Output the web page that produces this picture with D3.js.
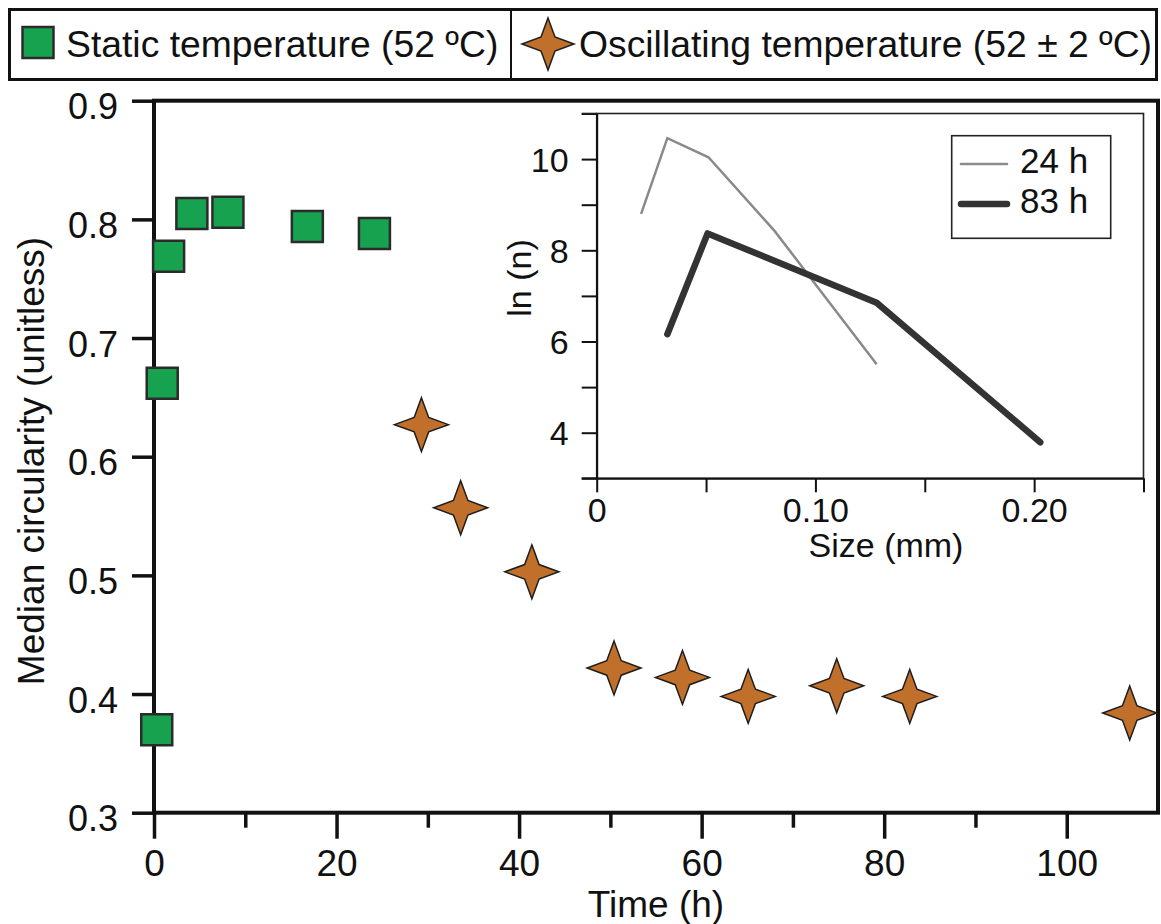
<!DOCTYPE html>
<html>
<head>
<meta charset="utf-8">
<script src="https://cdn.jsdelivr.net/npm/d3@7"></script>
<style>
  body { margin: 0; background: #fff; }
  text { font-family: "Liberation Sans", Arial, Helvetica, sans-serif; fill: #111; }
</style>
</head>
<body>
<div id="chart"></div>
<script>
// median circularity over time, static run (squares)
var staticTime = [0.3, 0.9, 1.6, 4.15, 8.1, 16.8, 24.15];
var staticCirc = [0.370, 0.662, 0.769, 0.805, 0.806, 0.794, 0.788];

// oscillating run (stars)
var oscTime = [29.3, 33.6, 41.4, 50.4, 57.9, 65.1, 74.8, 82.8, 106.9];
var oscCirc = [0.627, 0.557, 0.503, 0.422, 0.414, 0.398, 0.407, 0.398, 0.384];

// inset: size distribution
var size24 = [0.0203, 0.0323, 0.0511, 0.0814, 0.128];
var lnN24 = [8.80, 10.46, 10.04, 8.42, 5.50];
var size83 = [0.0323, 0.0507, 0.128, 0.2028];
var lnN83 = [6.16, 8.37, 6.85, 3.79];

// ticks and labels
var timeTicks = [0, 10, 20, 30, 40, 50, 60, 70, 80, 90, 100];
var circTicks = [0.3, 0.4, 0.5, 0.6, 0.7, 0.8, 0.9];
var sizeTicks = [0, 0.05, 0.10, 0.15, 0.20, 0.25];
var lnTicks = [3, 4, 5, 6, 7, 8, 9, 10, 11];
var legendLabels = ["Static temperature (52 ºC)", "Oscillating temperature (52 ± 2 ºC)"];
var insetLabels = ["24 h", "83 h"];

var width = 1161,
  height = 924;

var green = "#16a24f",
  orange = "#c0702a";

var svg = d3.select("#chart")
  .append("svg")
  .attr("width", width)
  .attr("height", height);

// four pointed star as a custom symbol type
var star4 = {
  draw: function(context, size) {
    var R = Math.sqrt(size) / 2, r = R * 0.38;
    for (var i = 0; i < 8; i++) {
      var a = -Math.PI / 2 + i * Math.PI / 4;
      var rad = i % 2 === 0 ? R : r;
      if (i === 0) context.moveTo(rad * Math.cos(a), rad * Math.sin(a));
      else context.lineTo(rad * Math.cos(a), rad * Math.sin(a));
    }
    context.closePath();
  }
};

// main scales
var x = d3.scaleLinear().domain([0, 110]).range([154, 1158]);
var y = d3.scaleLinear().domain([0.3, 0.9]).range([812.7, 100.7]);

// x axis
var xAxis = svg.append("g")
  .attr("transform", "translate(0," + y(0.3) + ")")
  .call(d3.axisBottom(x)
    .tickValues(timeTicks)
    .tickSize(26)
    .tickSizeOuter(0)
    .tickPadding(11)
    .tickFormat(function(d) { return d % 20 === 0 ? d : ""; }));
xAxis.select(".domain").remove();
xAxis.selectAll(".tick line")
  .attr("stroke", "#111")
  .attr("stroke-width", 3.5)
  .attr("y2", function(d) { return d % 20 === 0 ? 26 : 15; });
xAxis.selectAll(".tick text").style("font-size", "37px").attr("fill", "#111");

// y axis
var yAxis = svg.append("g")
  .attr("transform", "translate(" + x(0) + ",0)")
  .call(d3.axisLeft(y)
    .tickValues(circTicks)
    .tickSize(22)
    .tickSizeOuter(0)
    .tickPadding(14)
    .tickFormat(d3.format(".1f")));
yAxis.select(".domain").remove();
yAxis.selectAll(".tick line").attr("stroke", "#111").attr("stroke-width", 3.5);
yAxis.selectAll(".tick text")
  .style("font-size", "36px")
  .attr("dy", "0.5em")
  .attr("fill", "#111");

// frame round the main plot
svg.append("rect")
  .attr("x", x(0))
  .attr("y", y(0.9))
  .attr("width", x(110) - x(0))
  .attr("height", y(0.3) - y(0.9))
  .attr("fill", "none")
  .attr("stroke", "#111")
  .attr("stroke-width", 4);

// axis titles
svg.append("text")
  .attr("x", (x(0) + x(110)) / 2)
  .attr("y", 917)
  .attr("text-anchor", "middle")
  .style("font-size", "37px")
  .text("Time (h)");

svg.append("text")
  .attr("transform", "translate(44," + 461 + ") rotate(-90)")
  .attr("text-anchor", "middle")
  .style("font-size", "37px")
  .text("Median circularity (unitless)");

// inset
var xi = d3.scaleLinear().domain([0, 0.25]).range([596.7, 1143.5]);
var yi = d3.scaleLinear().domain([3, 11]).range([478.3, 113.5]);

svg.append("rect")
  .attr("x", xi(0))
  .attr("y", yi(11))
  .attr("width", xi(0.25) - xi(0))
  .attr("height", yi(3) - yi(11))
  .attr("fill", "#fff")
  .attr("stroke", "#222")
  .attr("stroke-width", 1.6);

var xiAxis = svg.append("g")
  .attr("transform", "translate(0," + yi(3) + ")")
  .call(d3.axisBottom(xi)
    .tickValues(sizeTicks)
    .tickSize(14)
    .tickSizeOuter(0)
    .tickPadding(6)
    .tickFormat(function(d) {
      if (d === 0) return "0";
      return Math.round(d * 100) % 10 === 0 ? d3.format(".2f")(d) : "";
    }));
xiAxis.select(".domain").attr("stroke", "#111").attr("stroke-width", 2);
xiAxis.selectAll(".tick line").attr("stroke", "#111").attr("stroke-width", 2);
xiAxis.selectAll(".tick text").style("font-size", "34px").attr("fill", "#111");

var yiAxis = svg.append("g")
  .attr("transform", "translate(" + xi(0) + ",0)")
  .call(d3.axisLeft(yi)
    .tickValues(lnTicks)
    .tickSize(15)
    .tickSizeOuter(0)
    .tickPadding(13)
    .tickFormat(function(d) { return d % 2 === 0 ? d : ""; }));
yiAxis.select(".domain").attr("stroke", "#111").attr("stroke-width", 2);
yiAxis.selectAll(".tick line").attr("stroke", "#111").attr("stroke-width", 2);
yiAxis.selectAll(".tick text")
  .style("font-size", "34px")
  .attr("dy", "0.35em")
  .attr("fill", "#111");

// extend axis lines a little past the origin like the original
svg.append("line")
  .attr("x1", xi(0) - 15).attr("x2", xi(0))
  .attr("y1", yi(3)).attr("y2", yi(3))
  .attr("stroke", "#111").attr("stroke-width", 2);
svg.append("line")
  .attr("x1", xi(0) - 15).attr("x2", xi(0))
  .attr("y1", yi(11)).attr("y2", yi(11))
  .attr("stroke", "#222").attr("stroke-width", 1.6);

svg.append("text")
  .attr("x", 886)
  .attr("y", 557)
  .attr("text-anchor", "middle")
  .style("font-size", "34px")
  .text("Size (mm)");

svg.append("text")
  .attr("transform", "translate(531,278) rotate(-90)")
  .attr("text-anchor", "middle")
  .style("font-size", "34px")
  .text("ln (n)");

var line = d3.line()
  .x(function(d) { return xi(d[0]); })
  .y(function(d) { return yi(d[1]); });

svg.append("path")
  .datum(d3.zip(size24, lnN24))
  .attr("d", line)
  .attr("fill", "none")
  .attr("stroke", "#8a8a8a")
  .attr("stroke-width", 2.5);

svg.append("path")
  .datum(d3.zip(size83, lnN83))
  .attr("d", line)
  .attr("fill", "none")
  .attr("stroke", "#333")
  .attr("stroke-width", 6.5)
  .attr("stroke-linecap", "round")
  .attr("stroke-linejoin", "round");

// inset legend
svg.append("rect")
  .attr("x", 951.7).attr("y", 135.7)
  .attr("width", 159).attr("height", 102.6)
  .attr("fill", "#fff")
  .attr("stroke", "#222")
  .attr("stroke-width", 1.6);

var insetKeys = svg.selectAll(".ikey")
  .data(insetLabels)
  .enter()
  .append("g")
  .attr("class", "ikey")
  .attr("transform", function(d, i) { return "translate(0," + i * 40 + ")"; });

insetKeys.append("line")
  .attr("x1", 961).attr("x2", 1007)
  .attr("y1", 164).attr("y2", 164)
  .attr("stroke", function(d, i) { return i === 0 ? "#8a8a8a" : "#333"; })
  .attr("stroke-width", function(d, i) { return i === 0 ? 2.5 : 6.5; })
  .attr("stroke-linecap", "round");

insetKeys.append("text")
  .attr("x", 1020)
  .attr("y", 173)
  .style("font-size", "35px")
  .text(function(d) { return d; });

// data points
var square = d3.symbol().type(d3.symbolSquare).size(31 * 31);
var star = d3.symbol().type(star4).size(54 * 54);

svg.selectAll(".sq")
  .data(d3.zip(staticTime, staticCirc))
  .enter()
  .append("path")
  .attr("class", "sq")
  .attr("transform", function(d) { return "translate(" + x(d[0]) + "," + y(d[1]) + ")"; })
  .attr("d", square)
  .attr("fill", green)
  .attr("stroke", "#2b2b2b")
  .attr("stroke-width", 2.5);

svg.selectAll(".st")
  .data(d3.zip(oscTime, oscCirc))
  .enter()
  .append("path")
  .attr("class", "st")
  .attr("transform", function(d) { return "translate(" + x(d[0]) + "," + y(d[1]) + ")"; })
  .attr("d", star)
  .attr("fill", orange)
  .attr("stroke", "#1e1e1e")
  .attr("stroke-width", 1.5);

// top legend box
svg.append("rect")
  .attr("x", 9.5).attr("y", 9.5)
  .attr("width", 1147).attr("height", 70)
  .attr("fill", "#fff")
  .attr("stroke", "#111")
  .attr("stroke-width", 3);

svg.append("line")
  .attr("x1", 511).attr("x2", 511)
  .attr("y1", 9.5).attr("y2", 79.5)
  .attr("stroke", "#111")
  .attr("stroke-width", 2);

svg.append("path")
  .attr("transform", "translate(38,42.5)")
  .attr("d", d3.symbol().type(d3.symbolSquare).size(31 * 31))
  .attr("fill", green)
  .attr("stroke", "#2b2b2b")
  .attr("stroke-width", 2.5);

svg.append("path")
  .attr("transform", "translate(548,44)")
  .attr("d", d3.symbol().type(star4).size(52 * 52))
  .attr("fill", orange)
  .attr("stroke", "#1e1e1e")
  .attr("stroke-width", 1.5);

svg.selectAll(".lkey")
  .data(legendLabels)
  .enter()
  .append("text")
  .attr("class", "lkey")
  .attr("x", function(d, i) { return i === 0 ? 66 : 579; })
  .attr("y", 56.5)
  .style("font-size", "37.3px")
  .text(function(d) { return d; });
</script>
</body>
</html>
